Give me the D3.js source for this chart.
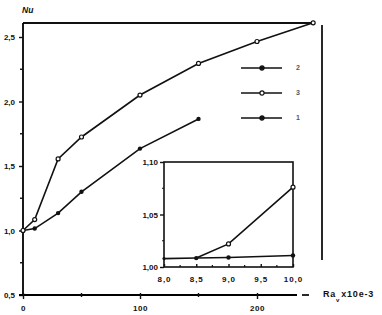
<!DOCTYPE html>
<meta charset="utf-8">
<style>
 body { margin: 0; background: #fff; }
 text { font-family: "Liberation Sans", Arial, sans-serif; font-weight: bold; font-size: 8px; fill: #111; }
 .line { fill: none; stroke: #111; stroke-width: 1.6px; }
 .frame { stroke: #111; stroke-width: 1.8px; fill: none; }
 .tick line { stroke: #111; stroke-width: 1.4px; }
</style>
<svg class="chart" width="382" height="315"></svg>
<script src="https://cdn.jsdelivr.net/npm/d3@7"></script>
<script>
 // main plot: Nu vs Ra_v (x10e-3)
 var series3 = [[0, 1.0], [10, 1.085], [30, 1.555], [50, 1.725], [100, 2.05], [150, 2.295], [200, 2.465], [248, 2.61]];
 var series1 = [[0, 1.0], [10, 1.015], [30, 1.135], [50, 1.30], [100, 1.635], [150, 1.865]];

 // inset
 var inset3 = [[8.5, 1.0085], [9.0, 1.022], [10.0, 1.076]];
 var inset2 = [[8.0, 1.008], [8.5, 1.0085], [9.0, 1.009], [10.0, 1.011]];

 var xTicks = [0, 100, 200];
 var xMinor = [50, 150];
 var yTicks = [0.5, 1.0, 1.5, 2.0, 2.5];
 var yMinor = [0.75, 1.25, 1.75, 2.25];
 var insetXTicks = [8.0, 8.5, 9.0, 9.5, 10.0];
 var insetXMinor = [8.25, 8.75, 9.25, 9.75];
 var insetYTicks = [1.00, 1.05, 1.10];
 var insetYMinor = [1.025, 1.075];
 var legendLabels = ["2", "3", "1"];
 var legendOpen = [false, true, false];

 var comma = function(f) { return function(d) { return d3.format(f)(d).replace(".", ","); }; };

 var svg = d3.select(".chart");

 var x = d3.scaleLinear().domain([0, 250]).range([23, 315.5]);
 var y = d3.scaleLinear().domain([0.5, 2.5]).range([295, 37]);

 // frame bits
 svg.append("line").attr("class", "frame").attr("x1", x(0)).attr("x2", 312).attr("y1", 23).attr("y2", 23);
 svg.append("line").attr("class", "frame").attr("x1", 322).attr("x2", 322).attr("y1", 25).attr("y2", 260);

 // y axis
 var yAxis = svg.append("g").attr("transform", "translate(" + x(0) + ",0)")
     .call(d3.axisLeft(y).tickValues(yTicks).tickSize(4).tickFormat(comma(".1f")));
 yAxis.select(".domain").attr("d", "M0,295V23").attr("stroke-width", 1.8);
 yAxis.selectAll("text").attr("x", -8).attr("dy", "0.35em");
 yAxis.selectAll(".minor").data(yMinor).enter().append("line")
     .attr("x1", -3).attr("x2", 0).attr("y1", y).attr("y2", y).attr("stroke", "#111").attr("stroke-width", 1.4);

 // x axis
 var xAxis = svg.append("g").attr("transform", "translate(0," + y(0.5) + ")")
     .call(d3.axisBottom(x).tickValues(xTicks).tickSize(4).tickFormat(d3.format("d")));
 xAxis.select(".domain").attr("d", "M" + (x(0) - 4) + ",0H297").attr("stroke-width", 1.8);
 xAxis.selectAll(".tick line").attr("y1", -2).attr("y2", 4);
 xAxis.selectAll("text").attr("y", 10).style("letter-spacing", "0.5px");
 xAxis.selectAll(".minor").data(xMinor).enter().append("line")
     .attr("x1", x).attr("x2", x).attr("y1", -2).attr("y2", 2).attr("stroke", "#111").attr("stroke-width", 1.4);
 xAxis.append("line").attr("x1", 302).attr("x2", 309).attr("y1", 0).attr("y2", 0).attr("stroke", "#111").attr("stroke-width", 1.8);

 // labels
 svg.append("text").attr("x", 22).attr("y", 13).style("font-style", "italic").style("font-size", "8.5px").text("Nu");
 var xl = svg.append("text").attr("x", 323).attr("y", 297).style("font-size", "9px").style("letter-spacing", "0.8px");
 xl.append("tspan").text("Ra");
 xl.append("tspan").attr("dy", 5).style("font-size", "6px").text("v");
 xl.append("tspan").attr("dy", -5).attr("dx", 1).text("x10e-3");

 var line = d3.line().x(function(d) { return x(d[0]); }).y(function(d) { return y(d[1]); });

 svg.append("path").datum(series1).attr("class", "line").attr("d", line);
 svg.append("path").datum(series3).attr("class", "line").attr("d", line);

 svg.selectAll(".m1").data(series1).enter().append("circle")
     .attr("cx", function(d) { return x(d[0]); }).attr("cy", function(d) { return y(d[1]); })
     .attr("r", 2.2).attr("fill", "#111");
 svg.selectAll(".m3").data(series3).enter().append("circle")
     .attr("cx", function(d) { return x(d[0]); }).attr("cy", function(d) { return y(d[1]); })
     .attr("r", 2.0).attr("fill", "#fff").attr("stroke", "#111").attr("stroke-width", 1.2);

 // legend
 var legend = svg.selectAll(".legend").data(legendLabels).enter().append("g")
     .attr("transform", function(d, i) { return "translate(241," + (68 + i * 25) + ")"; });
 legend.append("line").attr("x1", 0).attr("x2", 41).attr("stroke", "#111").attr("stroke-width", 1.5);
 legend.append("circle").attr("cx", 21).attr("r", 2.1)
     .attr("fill", function(d, i) { return legendOpen[i] ? "#fff" : "#111"; })
     .attr("stroke", "#111").attr("stroke-width", 1.2);
 legend.append("text").attr("x", 55).attr("dy", "0.35em").style("font-size", "7px").style("fill", "#555")
     .text(function(d) { return d; });

 // inset
 var ix = d3.scaleLinear().domain([8.0, 10.0]).range([164, 293]);
 var iy = d3.scaleLinear().domain([1.00, 1.10]).range([267, 162]);

 svg.append("rect").attr("x", 164).attr("y", 162).attr("width", 129).attr("height", 105)
     .attr("fill", "#fff").attr("stroke", "#111").attr("stroke-width", 1.6);

 var iyAxis = svg.append("g").attr("transform", "translate(164,0)")
     .call(d3.axisLeft(iy).tickValues(insetYTicks).tickSize(4).tickFormat(comma(".2f")));
 iyAxis.select(".domain").remove();
 iyAxis.selectAll("text").attr("x", -6);
 iyAxis.selectAll(".minor").data(insetYMinor).enter().append("line")
     .attr("x1", -2).attr("x2", 0).attr("y1", iy).attr("y2", iy).attr("stroke", "#111").attr("stroke-width", 1.2);

 var ixAxis = svg.append("g").attr("transform", "translate(0,267)")
     .call(d3.axisBottom(ix).tickValues(insetXTicks).tickSize(0).tickFormat(comma(".1f")));
 ixAxis.select(".domain").remove();
 ixAxis.selectAll(".tick line").attr("y1", -3).attr("y2", 0);
 ixAxis.selectAll("text").attr("y", 9).style("letter-spacing", "1px");
 ixAxis.selectAll(".minor").data(insetXMinor).enter().append("line")
     .attr("x1", ix).attr("x2", ix).attr("y1", -2).attr("y2", 0).attr("stroke", "#111").attr("stroke-width", 1.2);

 var iline = d3.line().x(function(d) { return ix(d[0]); }).y(function(d) { return iy(d[1]); });
 svg.append("path").datum(inset2).attr("class", "line").attr("d", iline);
 svg.append("path").datum(inset3).attr("class", "line").attr("d", iline);
 svg.selectAll(".i2").data(inset2).enter().append("circle")
     .attr("cx", function(d) { return ix(d[0]); }).attr("cy", function(d) { return iy(d[1]); })
     .attr("r", function(d) { return d[0] == 8.0 ? 1.6 : 2.2; }).attr("fill", "#111");
 svg.selectAll(".i3").data(inset3.slice(1)).enter().append("circle")
     .attr("cx", function(d) { return ix(d[0]); }).attr("cy", function(d) { return iy(d[1]); })
     .attr("r", 2.0).attr("fill", "#fff").attr("stroke", "#111").attr("stroke-width", 1.2);
</script>
